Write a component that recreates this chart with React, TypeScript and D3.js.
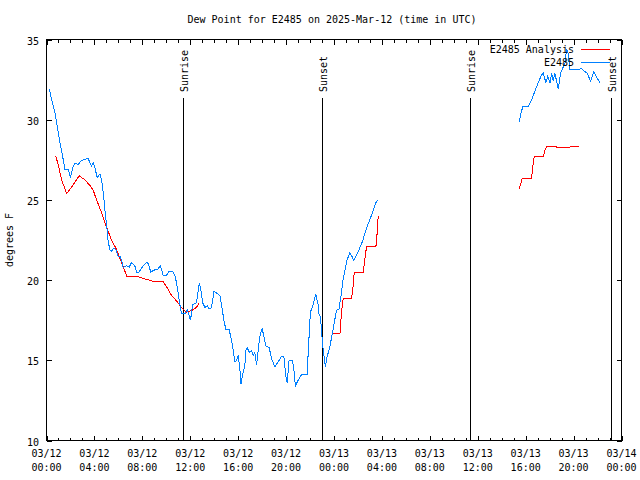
import React from "react";
import * as d3 from "d3";

const TITLE = "Dew Point for E2485 on 2025-Mar-12 (time in UTC)";
const Y_LABEL = "degrees F";
const Y_TICKS = [10, 15, 20, 25, 30, 35];
const X_MAJOR_HOURS = [0, 4, 8, 12, 16, 20, 24, 28, 32, 36, 40, 44, 48];
const X_TICK_DATES = ["03/12", "03/12", "03/12", "03/12", "03/12", "03/12", "03/13", "03/13", "03/13", "03/13", "03/13", "03/13", "03/14"];
const X_TICK_TIMES = ["00:00", "04:00", "08:00", "12:00", "16:00", "20:00", "00:00", "04:00", "08:00", "12:00", "16:00", "20:00", "00:00"];
const SUN_LABELS = ["Sunrise", "Sunset", "Sunrise", "Sunset"];
const SUN_HOURS = [11.42, 23.02, 35.39, 47.1];
const SERIES_NAMES = ["E2485 Analysis", "E2485"];

// Observations (hours since 2025-03-12 00:00 UTC); null = gap
const OBS_HOURS = [
  0.23, 0.71, 1.12, 1.4, 1.54, 1.82, 2.01, 2.18, 2.37, 2.65, 2.85, 3.07, 3.48, 3.62, 3.76, 3.9, 4.04, 4.23, 4.46, 4.6,
  4.79, 4.87, 5.01, 5.15, 5.29, 5.43, 5.62, 5.79, 5.98, 6.12, 6.26, 6.4, 6.68, 6.9, 7.1, 7.37, 7.51, 7.73, 8.07, 8.35,
  8.48, 8.71, 8.9, 9.32, 9.51, 9.74, 10.02, 10.24, 10.52, 10.72, 10.86, 10.99, 11.13, 11.27, 11.55, 11.74, 11.91, 12.02, 12.2, 12.53,
  12.75, 12.87, 13.03, 13.23, 13.42, 13.59, 13.78, 13.98, 14.2, 14.48, 14.62, 14.81, 14.98, 15.25, 15.45, 15.59, 15.73, 15.87, 16.0, 16.14,
  16.23, 16.37, 16.56, 16.64, 16.75, 16.92, 17.12, 17.25, 17.39, 17.53, 17.67, 17.81, 18.0, 18.14, 18.31, 18.59, 18.78, 19.06, 19.34, 19.62,
  19.81, 19.98, 20.09, 20.25, 20.53, 20.64, 20.78, 21.0, 21.28, 21.75, 21.92, 22.03, 22.25, 22.48, 22.59, 22.67, 22.75, 22.87, 22.95, 23.09,
  23.28, 23.42, 23.64, 23.87, 24.06, 24.2, 24.42, 24.62, 24.75, 24.89, 25.09, 25.31, 25.45, 25.64, 25.87, 26.09, 26.37, 26.7, 26.98, 27.26,
  27.48, 27.68, 33.0,
  39.47, 39.58, 39.75, 40.22, 40.5, 40.78, 41.05, 41.33, 41.47, 41.69, 41.83, 42.03, 42.17, 42.3, 42.44, 42.72, 42.92, 43.14, 43.28, 43.42,
  43.55, 43.69, 44.39, 44.67, 44.94, 45.14, 45.42, 45.69, 45.97, 46.19,
];
const OBS_VALUES = [
  31.9, 30.4, 28.6, 27.5, 26.9, 26.9, 26.4, 27.0, 27.3, 27.2, 27.4, 27.5, 27.6, 27.3, 27.1, 27.3, 27.0, 26.4, 26.6, 26.25,
  25.1, 24.4, 23.5, 22.4, 21.9, 21.8, 22.0, 21.9, 21.5, 21.5, 21.25, 20.8, 20.9, 20.8, 21.1, 20.9, 20.5, 20.5, 20.9, 21.1,
  21.05, 20.5, 20.6, 20.7, 20.9, 20.3, 20.3, 20.55, 20.55, 20.3, 19.8, 19.2, 18.5, 17.9, 17.9, 18.15, 17.8, 17.5, 18.45, 18.6,
  19.8, 19.5, 18.6, 18.3, 18.4, 18.2, 18.3, 19.3, 19.2, 19.0, 18.4, 17.5, 16.9, 16.9, 16.25, 15.6, 14.9, 15.0, 15.3, 14.5,
  13.5, 14.1, 14.7, 15.6, 15.8, 15.5, 15.6, 15.3, 15.5, 14.7, 15.6, 16.5, 17.0, 16.5, 15.9, 15.8, 15.1, 14.6, 14.9, 15.25,
  15.25, 14.0, 13.6, 15.0, 15.0, 14.5, 13.4, 13.75, 14.1, 14.1, 16.5, 18.0, 18.45, 19.15, 18.75, 18.5, 17.9, 17.7, 16.9, 15.7,
  14.6, 15.2, 15.8, 16.7, 17.5, 18.1, 18.2, 19.2, 20.0, 20.5, 21.25, 21.7, 21.55, 21.25, 21.55, 21.9, 22.4, 23.2, 23.75, 24.3,
  24.8, 25.0, null,
  29.85, 30.3, 30.8, 30.8, 31.25, 31.8, 32.3, 32.8, 32.9, 32.3, 32.7, 32.3, 32.9, 32.4, 32.9, 31.9, 32.9, 33.3, 33.5, 34.4,
  34.1, 33.1, 33.1, 33.2, 33.0, 32.9, 32.4, 33.0, 32.6, 32.3,
];

// Analysis
const ANA_HOURS = [
  0.76, 0.98, 1.26, 1.68, 2.1, 2.73, 3.21, 3.62, 3.9, 4.18, 4.6, 5.01, 5.43, 5.85, 6.26, 6.73, 7.51, 8.07, 8.62, 8.9,
  9.73, 10.01, 10.43, 10.85, 11.26, 11.68, 12.11, 12.52, 12.75, 18.0,
  23.94, 24.5, 24.64, 24.77, 25.47, 25.61, 25.69, 26.44, 26.58, 26.72, 27.5, 27.61, 27.69, 33.0,
  39.47, 39.58, 39.72, 40.5, 40.58, 40.72, 41.47, 41.61, 41.75, 42.58, 42.64, 43.55, 43.69, 44.47,
];
const ANA_VALUES = [
  27.75, 27.2, 26.25, 25.4, 25.8, 26.5, 26.25, 25.9, 25.6, 25.0, 24.2, 23.3, 22.5, 21.9, 21.1, 20.2, 20.25, 20.1, 20.0, 19.9,
  19.9, 19.6, 19.06, 18.7, 18.3, 18.0, 18.1, 18.3, 18.6, null,
  16.7, 16.7, 18.1, 18.85, 18.85, 19.7, 20.5, 20.5, 21.35, 22.1, 22.1, 23.0, 24.0, null,
  25.7, 26.0, 26.35, 26.35, 27.0, 27.7, 27.7, 28.1, 28.3, 28.3, 28.25, 28.25, 28.3, 28.35,
];

const RED = "#ff0000";
const BLUE = "#0080ff";
const FONT = "'DejaVu Sans Mono', 'Liberation Mono', monospace";

const W = 640;
const H = 480;
const L = 46.5;
const R = 621.5;
const T = 39.5;
const B = 440.5;

export default function App() {
  const x = d3.scaleLinear().domain([0, 48]).range([L, R]);
  const y = d3.scaleLinear().domain([10, 35]).range([B, T]);

  const mk = (hs: number[], vs: (number | null)[]) =>
    d3
      .line<number>()
      .defined((i) => vs[i] !== null)
      .x((i) => x(hs[i]))
      .y((i) => y(vs[i] as number))(d3.range(hs.length)) || "";

  const obsPath = mk(OBS_HOURS, OBS_VALUES);
  const anaPath = mk(ANA_HOURS, ANA_VALUES);

  const hourTicks = d3.range(0, 49);

  return (
    <svg width={W} height={H} style={{ position: "absolute", left: 0, top: 0, background: "#fff" }} fontFamily={FONT} fontSize={10}>
      <rect x={0} y={0} width={W} height={H} fill="#fff" />
      <text x={332} y={23} textAnchor="middle" fill="#000">{TITLE}</text>

      {/* sun lines */}
      {SUN_HOURS.map((h, i) => {
        const sx = Math.round(x(h)) + 0.5;
        return (
          <g key={"sun" + i}>
            <line x1={sx} x2={sx} y1={98} y2={B} stroke="#000" strokeWidth={1} shapeRendering="crispEdges" />
            <text transform={`translate(${sx + 4.5},92) rotate(-90)`} textAnchor="start" fill="#000">{SUN_LABELS[i]}</text>
          </g>
        );
      })}

      {/* x ticks */}
      {hourTicks.map((h) => {
        const tx = Math.round(x(h)) + 0.5;
        const len = h % 4 === 0 ? 5 : 3;
        return (
          <g key={"xt" + h} shapeRendering="crispEdges" stroke="#000">
            <line x1={tx} x2={tx} y1={B} y2={B - len} />
            <line x1={tx} x2={tx} y1={T} y2={T + len} />
          </g>
        );
      })}
      {X_MAJOR_HOURS.map((h, i) => (
        <g key={"xl" + h} fill="#000">
          <text x={x(h)} y={457} textAnchor="middle">{X_TICK_DATES[i]}</text>
          <text x={x(h)} y={471} textAnchor="middle">{X_TICK_TIMES[i]}</text>
        </g>
      ))}

      {/* y ticks */}
      {Y_TICKS.map((v) => {
        const ty = Math.round(y(v)) + 0.5;
        return (
          <g key={"yt" + v}>
            <line x1={L} x2={L + 5} y1={ty} y2={ty} stroke="#000" shapeRendering="crispEdges" />
            <line x1={R} x2={R - 5} y1={ty} y2={ty} stroke="#000" shapeRendering="crispEdges" />
            <text x={39} y={ty + 4} textAnchor="end" fill="#000">{v}</text>
          </g>
        );
      })}
      <text transform={`translate(13,240) rotate(-90)`} textAnchor="middle" fill="#000">{Y_LABEL}</text>

      {/* data */}
      <path d={anaPath} fill="none" stroke={RED} strokeWidth={1} shapeRendering="crispEdges" />
      <path d={obsPath} fill="none" stroke={BLUE} strokeWidth={1} shapeRendering="crispEdges" />

      {/* legend */}
      <text x={574} y={52.5} textAnchor="end" fill="#000">{SERIES_NAMES[0]}</text>
      <line x1={581} x2={610} y1={49.5} y2={49.5} stroke={RED} shapeRendering="crispEdges" />
      <text x={574} y={66} textAnchor="end" fill="#000">{SERIES_NAMES[1]}</text>
      <line x1={581} x2={610} y1={62.5} y2={62.5} stroke={BLUE} shapeRendering="crispEdges" />

      {/* border */}
      <rect x={L} y={T} width={R - L} height={B - T} fill="none" stroke="#000" strokeWidth={1} shapeRendering="crispEdges" />
    </svg>
  );
}
